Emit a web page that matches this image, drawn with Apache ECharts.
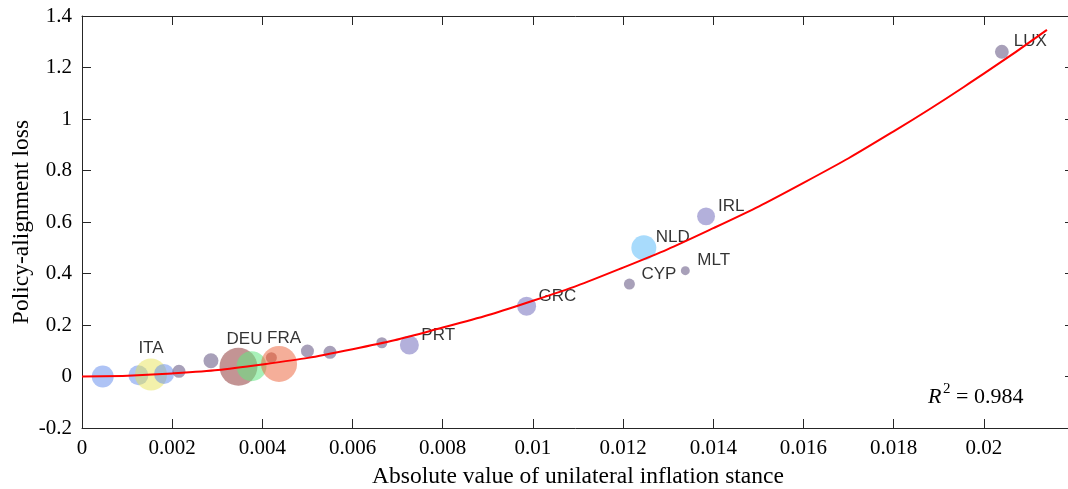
<!DOCTYPE html>
<html>
<head>
<meta charset="utf-8">
<script src="https://cdn.jsdelivr.net/npm/echarts@6.0.0/dist/echarts.min.js"></script>
<style>
  html, body { margin: 0; padding: 0; background: #fff; }
  #chart { width: 1068px; height: 489px; }
</style>
</head>
<body>
<div id="chart"></div>
<script>
// bubbles: inflation stance (x), policy-alignment loss (y), weight (bubble area)
var stance = [0.00046, 0.00125, 0.00153, 0.00182, 0.00215, 0.00286, 0.00347, 0.00376, 0.00420, 0.00437,
              0.00500, 0.00550, 0.00665, 0.00726, 0.00986, 0.01214, 0.01246, 0.01338, 0.01384, 0.02040];
var loss = [0.000, 0.005, 0.008, 0.010, 0.020, 0.061, 0.038, 0.040, 0.073, 0.049,
            0.099, 0.094, 0.131, 0.122, 0.273, 0.359, 0.500, 0.411, 0.622, 1.261];
var weight = [30, 25, 64, 25, 10.6, 14, 90, 56, 7.6, 81,
              10.6, 10.6, 7.6, 22.6, 22.6, 7.6, 39, 5, 20, 12];
var countries = ['', '', 'ITA', '', '', '', 'DEU', '', '', 'FRA',
                 '', '', '', 'PRT', 'GRC', 'CYP', 'NLD', 'MLT', 'IRL', 'LUX'];

// fitted curve
var fitX = [0, 0.002, 0.004, 0.006, 0.008, 0.010, 0.012, 0.014, 0.016, 0.018, 0.020, 0.0214];
var fitY = [0, 0.012, 0.047, 0.106, 0.190, 0.294, 0.423, 0.576, 0.752, 0.952, 1.176, 1.346];

var xTicks = { min: 0, max: 0.022, step: 0.002 };
var yTicks = { min: -0.2, max: 1.4, step: 0.2 };
var rSquared = '0.984';

var blue = 'rgba(100,140,235,0.65)',
    lav = 'rgba(120,115,190,0.7)',
    grape = 'rgba(100,85,130,0.7)',
    brown = 'rgba(140,50,50,0.65)';
var pointColors = [blue, blue, 'rgba(230,225,80,0.6)', blue, grape, grape, brown, 'rgba(100,230,130,0.7)', brown, 'rgba(235,100,60,0.65)',
                   grape, grape, grape, lav, lav, grape, 'rgba(110,195,250,0.75)', grape, lav, grape];

var labelOffsets = { ITA: ['center', [0, -26]], DEU: ['center', [6, -27]], FRA: ['center', [5, -26]] };

var serif = 'Liberation Serif';
var axisColor = '#262626';

var bubbles = stance.map(function(x, i) {
    var off = labelOffsets[countries[i]] || ['left', [12, -10]];
    return {
        value: [x, loss[i], weight[i]],
        itemStyle: { color: pointColors[i] },
        label: {
            show: countries[i] !== '',
            formatter: countries[i],
            position: 'inside',
            align: off[0],
            offset: off[1],
            color: '#000',
            textBorderWidth: 0
        }
    };
});

var baseAxis = function(t) {
    return {
        type: 'value',
        min: t.min,
        max: t.max,
        interval: t.step,
        axisLine: { show: true, onZero: false, lineStyle: { color: axisColor, width: 1 } },
        axisTick: { show: true, inside: true, length: 9, lineStyle: { color: axisColor } },
        splitLine: { show: false }
    };
};

var xBottom = baseAxis(xTicks);
xBottom.position = 'bottom';
xBottom.axisLabel = { fontFamily: serif, fontSize: 21, color: '#000', margin: 10, showMaxLabel: false };
xBottom.name = 'Absolute value of unilateral inflation stance';
xBottom.nameLocation = 'middle';
xBottom.nameGap = 37;
xBottom.nameTextStyle = { fontFamily: serif, fontSize: 23.5, color: '#000' };

var xTop = baseAxis(xTicks);
xTop.position = 'top';
xTop.axisLabel = { show: false };

var yLeft = baseAxis(yTicks);
yLeft.position = 'left';
yLeft.axisLabel = { fontFamily: serif, fontSize: 21, color: '#000', margin: 10 };
yLeft.name = 'Policy-alignment loss';
yLeft.nameLocation = 'middle';
yLeft.nameGap = 48;
yLeft.nameMoveOverlap = false;
yLeft.nameTextStyle = { fontFamily: serif, fontSize: 23.5, color: '#000' };

var yRight = baseAxis(yTicks);
yRight.position = 'right';
yRight.axisLabel = { show: false };

var rText = function(x, y, txt, size, italic) {
    return {
        type: 'text',
        x: x,
        y: y,
        style: {
            text: txt,
            fill: '#000',
            font: (italic ? 'italic ' : '') + size + 'px "Liberation Serif"',
            verticalAlign: 'middle'
        }
    };
};

var option = {
    animation: false,
    backgroundColor: '#fff',
    grid: { left: 82, top: 16, width: 992, height: 412, outerBoundsMode: 'none', containLabel: false },
    xAxis: [xBottom, xTop],
    yAxis: [yLeft, yRight],
    graphic: [
        rText(928, 397, 'R', 22, true),
        rText(943, 389, '2', 15, false),
        rText(956, 397, '= ' + rSquared, 22, false)
    ],
    series: [{
        type: 'scatter',
        xAxisIndex: 0,
        yAxisIndex: 0,
        symbol: 'circle',
        symbolSize: function(v) {
            return 4 * Math.sqrt(v[2]);
        },
        label: { fontFamily: 'Liberation Sans', fontSize: 17, color: '#000' },
        emphasis: { disabled: true },
        data: bubbles,
        z: 2
    }, {
        type: 'line',
        xAxisIndex: 0,
        yAxisIndex: 0,
        smooth: true,
        showSymbol: false,
        lineStyle: { color: '#ff0000', width: 2 },
        data: fitX.map(function(x, i) { return [x, fitY[i]]; }),
        z: 3
    }]
};

echarts.init(document.getElementById('chart')).setOption(option);
</script>
</body>
</html>
